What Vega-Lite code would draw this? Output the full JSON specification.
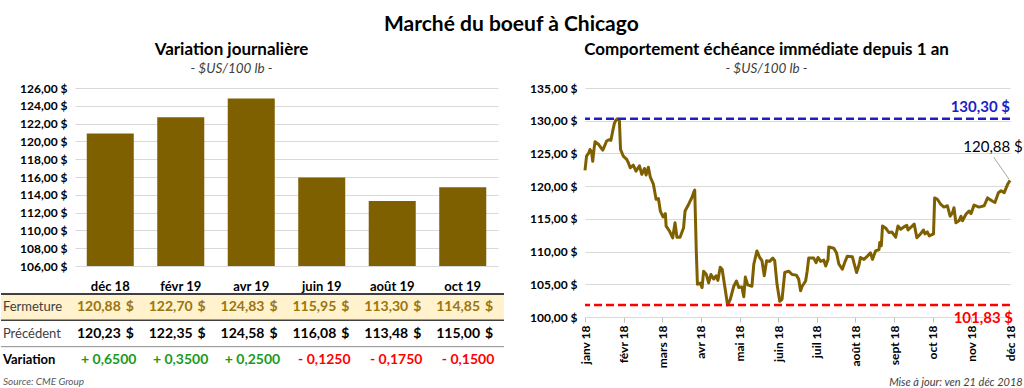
{
  "$schema": "https://vega.github.io/schema/vega-lite/v6.json",
  "background": "white",
  "padding": {"left": 0, "top": 13, "right": 4, "bottom": 0},
  "config": {
    "font": "Lato",
    "view": {"stroke": null},
    "locale": {"number": {"decimal": ",", "thousands": "\u00a0", "grouping": [3], "currency": ["", "\u00a0$"]}},
    "axis": {"labelColor": "#000000", "labelFontWeight": "bold", "labelFontSize": 12, "gridColor": "#D9D9D9", "domain": false, "ticks": false, "labelOverlap": false},
    "title": {"color": "#000000"}
  },
  "title": {"text": "Marché du boeuf à Chicago", "fontSize": 21, "fontWeight": "bold", "anchor": "middle", "offset": 6},
  "datasets": {
    "contracts": [
      {"c": "déc 18", "close": 120.88, "prev": 120.23, "chg": 0.65},
      {"c": "févr 19", "close": 122.70, "prev": 122.35, "chg": 0.35},
      {"c": "avr 19", "close": 124.83, "prev": 124.58, "chg": 0.25},
      {"c": "juin 19", "close": 115.95, "prev": 116.08, "chg": -0.125},
      {"c": "août 19", "close": 113.30, "prev": 113.48, "chg": -0.175},
      {"c": "oct 19", "close": 114.85, "prev": 115.00, "chg": -0.15}
    ],
    "rows": [{"r": "Fermeture"}, {"r": "Précédent"}, {"r": "Variation"}],
    "series": [
      {"m": 0.00, "v": 122.4}, {"m": 0.04, "v": 124.6}, {"m": 0.09, "v": 125.0}, {"m": 0.13, "v": 125.6},
      {"m": 0.17, "v": 125.2}, {"m": 0.20, "v": 123.8}, {"m": 0.23, "v": 125.5}, {"m": 0.26, "v": 126.8},
      {"m": 0.30, "v": 126.6}, {"m": 0.35, "v": 126.4}, {"m": 0.41, "v": 125.9}, {"m": 0.46, "v": 125.5},
      {"m": 0.51, "v": 126.2}, {"m": 0.56, "v": 126.9}, {"m": 0.62, "v": 127.1}, {"m": 0.67, "v": 127.0},
      {"m": 0.71, "v": 128.2}, {"m": 0.76, "v": 129.6}, {"m": 0.80, "v": 130.1}, {"m": 0.84, "v": 130.3},
      {"m": 0.89, "v": 130.0}, {"m": 0.92, "v": 125.6}, {"m": 0.99, "v": 124.6}, {"m": 1.08, "v": 124.1},
      {"m": 1.12, "v": 123.6}, {"m": 1.17, "v": 122.8}, {"m": 1.25, "v": 123.2}, {"m": 1.32, "v": 122.3},
      {"m": 1.41, "v": 123.1}, {"m": 1.47, "v": 121.8}, {"m": 1.54, "v": 122.7}, {"m": 1.58, "v": 121.7},
      {"m": 1.64, "v": 122.9}, {"m": 1.69, "v": 121.4}, {"m": 1.77, "v": 120.3}, {"m": 1.84, "v": 118.0},
      {"m": 1.90, "v": 118.1}, {"m": 1.95, "v": 116.2}, {"m": 2.02, "v": 115.3}, {"m": 2.08, "v": 115.8},
      {"m": 2.10, "v": 113.9}, {"m": 2.19, "v": 113.1}, {"m": 2.27, "v": 112.1}, {"m": 2.33, "v": 114.4},
      {"m": 2.38, "v": 112.2}, {"m": 2.46, "v": 112.2}, {"m": 2.55, "v": 113.6}, {"m": 2.59, "v": 116.2},
      {"m": 2.68, "v": 117.2}, {"m": 2.77, "v": 118.3}, {"m": 2.81, "v": 119.0}, {"m": 2.84, "v": 119.4},
      {"m": 2.88, "v": 110.1}, {"m": 2.91, "v": 105.0}, {"m": 2.98, "v": 105.2}, {"m": 3.03, "v": 104.5},
      {"m": 3.07, "v": 107.0}, {"m": 3.14, "v": 106.5}, {"m": 3.20, "v": 105.2}, {"m": 3.26, "v": 106.5},
      {"m": 3.33, "v": 105.8}, {"m": 3.39, "v": 106.3}, {"m": 3.44, "v": 105.6}, {"m": 3.50, "v": 107.6},
      {"m": 3.55, "v": 107.3}, {"m": 3.63, "v": 104.2}, {"m": 3.69, "v": 101.83}, {"m": 3.76, "v": 102.7},
      {"m": 3.85, "v": 104.7}, {"m": 3.92, "v": 105.5}, {"m": 3.98, "v": 104.5}, {"m": 4.06, "v": 104.6},
      {"m": 4.11, "v": 103.1}, {"m": 4.15, "v": 106.1}, {"m": 4.21, "v": 104.9}, {"m": 4.32, "v": 104.7},
      {"m": 4.37, "v": 108.1}, {"m": 4.45, "v": 110.1}, {"m": 4.52, "v": 109.1}, {"m": 4.58, "v": 108.6},
      {"m": 4.64, "v": 106.3}, {"m": 4.70, "v": 108.6}, {"m": 4.78, "v": 108.5}, {"m": 4.86, "v": 109.0},
      {"m": 4.91, "v": 108.6}, {"m": 4.97, "v": 105.0}, {"m": 5.04, "v": 102.4}, {"m": 5.10, "v": 102.7},
      {"m": 5.17, "v": 106.8}, {"m": 5.27, "v": 107.0}, {"m": 5.36, "v": 106.5}, {"m": 5.47, "v": 106.4},
      {"m": 5.53, "v": 105.8}, {"m": 5.58, "v": 104.0}, {"m": 5.62, "v": 104.7}, {"m": 5.71, "v": 105.5},
      {"m": 5.75, "v": 107.0}, {"m": 5.79, "v": 109.0}, {"m": 5.92, "v": 109.0}, {"m": 5.98, "v": 108.3},
      {"m": 6.03, "v": 109.1}, {"m": 6.10, "v": 108.5}, {"m": 6.18, "v": 108.7}, {"m": 6.23, "v": 107.8},
      {"m": 6.29, "v": 108.8}, {"m": 6.31, "v": 110.7}, {"m": 6.44, "v": 110.5}, {"m": 6.51, "v": 109.8},
      {"m": 6.57, "v": 108.1}, {"m": 6.66, "v": 107.3}, {"m": 6.72, "v": 108.3}, {"m": 6.79, "v": 109.3},
      {"m": 6.92, "v": 109.2}, {"m": 6.96, "v": 108.3}, {"m": 7.03, "v": 106.8}, {"m": 7.09, "v": 107.9},
      {"m": 7.13, "v": 109.1}, {"m": 7.22, "v": 108.8}, {"m": 7.31, "v": 109.3}, {"m": 7.39, "v": 109.8},
      {"m": 7.44, "v": 108.8}, {"m": 7.52, "v": 110.1}, {"m": 7.61, "v": 110.3}, {"m": 7.63, "v": 111.4},
      {"m": 7.67, "v": 110.9}, {"m": 7.70, "v": 113.9}, {"m": 7.78, "v": 113.6}, {"m": 7.87, "v": 112.9},
      {"m": 7.94, "v": 113.0}, {"m": 8.04, "v": 112.2}, {"m": 8.10, "v": 113.9}, {"m": 8.17, "v": 113.4},
      {"m": 8.26, "v": 113.8}, {"m": 8.33, "v": 114.0}, {"m": 8.36, "v": 113.3}, {"m": 8.52, "v": 114.2},
      {"m": 8.59, "v": 112.1}, {"m": 8.67, "v": 112.6}, {"m": 8.76, "v": 113.3}, {"m": 8.80, "v": 112.7},
      {"m": 8.86, "v": 113.0}, {"m": 8.91, "v": 112.4}, {"m": 9.02, "v": 112.7}, {"m": 9.05, "v": 118.2},
      {"m": 9.12, "v": 118.0}, {"m": 9.21, "v": 117.2}, {"m": 9.29, "v": 116.8}, {"m": 9.38, "v": 117.0},
      {"m": 9.45, "v": 115.4}, {"m": 9.51, "v": 115.9}, {"m": 9.55, "v": 116.7}, {"m": 9.60, "v": 114.4},
      {"m": 9.68, "v": 114.7}, {"m": 9.73, "v": 115.4}, {"m": 9.77, "v": 114.7}, {"m": 9.86, "v": 115.7},
      {"m": 9.94, "v": 116.2}, {"m": 9.99, "v": 115.8}, {"m": 10.07, "v": 117.1}, {"m": 10.20, "v": 116.8},
      {"m": 10.33, "v": 117.0}, {"m": 10.42, "v": 118.2}, {"m": 10.55, "v": 117.7}, {"m": 10.61, "v": 117.5},
      {"m": 10.70, "v": 119.0}, {"m": 10.77, "v": 119.3}, {"m": 10.85, "v": 119.0}, {"m": 10.94, "v": 120.3},
      {"m": 11.00, "v": 120.88}
    ]
  },
  "spacing": 24,
  "hconcat": [
    {
      "spacing": 0,
      "title": {"text": "Source: CME Group", "orient": "bottom", "anchor": "start", "fontSize": 10, "fontStyle": "italic", "fontWeight": "normal", "color": "#595959", "offset": 4, "dx": 3},
      "vconcat": [
        {
          "spacing": 17,
          "hconcat": [
            {"width": 1, "height": 1, "data": {"values": [{}]}, "mark": {"type": "text", "text": ""}, "encoding": {}},
            {
              "width": 423, "height": 178,
              "title": {"text": "Variation journalière", "subtitle": "- $US/100 lb -", "fontSize": 17, "fontWeight": "bold", "subtitleFontSize": 13.5, "subtitleFontStyle": "italic", "subtitleColor": "#404040", "subtitlePadding": 3, "offset": 6, "anchor": "middle", "frame": "group", "dx": -55},
              "data": {"name": "contracts"},
              "mark": {"type": "bar", "color": "#7F6000"},
              "encoding": {
                "x": {"field": "c", "type": "nominal", "sort": null, "title": null, "scale": {"paddingInner": 0.333, "paddingOuter": 0.1667}, "axis": {"labelAngle": 0, "labelFontSize": 13, "labelPadding": 14}},
                "y": {"field": "close", "type": "quantitative", "title": null, "scale": {"domain": [106, 126], "zero": false, "nice": false}, "axis": {"values": [106, 108, 110, 112, 114, 116, 118, 120, 122, 124, 126], "format": "$.2f", "grid": true, "labelPadding": 8}},
                "y2": {"datum": 106}
              }
            }
          ]
        },
        {
          "width": 503, "height": 79,
          "layer": [
            {
              "data": {"name": "rows"},
              "transform": [{"filter": "datum.r == 'Fermeture'"}],
              "mark": {"type": "rect", "color": "#FFF2CC"},
              "encoding": {
                "y": {"field": "r", "type": "nominal", "title": null, "scale": {"domain": ["Fermeture", "Précédent", "Variation"], "paddingInner": 0, "paddingOuter": 0}, "axis": null}
              }
            },
            {
              "data": {"name": "rows"},
              "mark": {"type": "rule"},
              "encoding": {
                "y": {"field": "r", "type": "nominal", "bandPosition": 0, "title": null, "axis": null},
                "color": {"field": "r", "type": "nominal", "scale": {"domain": ["Fermeture", "Précédent", "Variation"], "range": ["#404040", "#404040", "#8C8C8C"]}, "legend": null},
                "strokeWidth": {"field": "r", "type": "nominal", "scale": {"domain": ["Fermeture", "Précédent", "Variation"], "range": [2, 1, 3]}, "legend": null}
              }
            },
            {
              "data": {"name": "rows"},
              "transform": [{"filter": "datum.r != 'Variation'"}],
              "mark": {"type": "text", "align": "left", "fontSize": 13, "dx": -34},
              "encoding": {
                "x": {"datum": "Contrat", "type": "nominal", "title": null, "scale": {"domain": ["Contrat", "déc 18", "févr 19", "avr 19", "juin 19", "août 19", "oct 19"], "paddingInner": 0, "paddingOuter": 0.065}, "axis": null},
                "y": {"field": "r", "type": "nominal", "title": null, "axis": null},
                "text": {"field": "r"},
                "color": {"field": "r", "type": "nominal", "scale": {"domain": ["Fermeture", "Précédent"], "range": ["#9A7510", "#404040"]}, "legend": null}
              }
            },
            {
              "data": {"name": "rows"},
              "transform": [{"filter": "datum.r == 'Variation'"}],
              "mark": {"type": "text", "align": "left", "fontSize": 13, "fontWeight": "bold", "color": "#000000", "dx": -34},
              "encoding": {
                "x": {"datum": "Contrat", "type": "nominal", "title": null, "axis": null},
                "y": {"field": "r", "type": "nominal", "title": null, "axis": null},
                "text": {"field": "r"}
              }
            },
            {
              "data": {"name": "contracts"},
              "mark": {"type": "text", "fontSize": 14, "fontWeight": "bold", "color": "#9A7510", "align": "right", "dx": 12},
              "encoding": {
                "x": {"field": "c", "type": "nominal", "title": null, "axis": null},
                "y": {"datum": "Fermeture", "type": "nominal", "title": null, "axis": null},
                "text": {"field": "close", "type": "quantitative", "format": ".2f"}
              }
            },
            {
              "data": {"name": "contracts"},
              "mark": {"type": "text", "fontSize": 14, "fontWeight": "bold", "color": "#9A7510", "text": "$", "dx": 21},
              "encoding": {
                "x": {"field": "c", "type": "nominal", "title": null, "axis": null},
                "y": {"datum": "Fermeture", "type": "nominal", "title": null, "axis": null}
              }
            },
            {
              "data": {"name": "contracts"},
              "mark": {"type": "text", "fontSize": 14, "fontWeight": "bold", "color": "#000000", "align": "right", "dx": 12},
              "encoding": {
                "x": {"field": "c", "type": "nominal", "title": null, "axis": null},
                "y": {"datum": "Précédent", "type": "nominal", "title": null, "axis": null},
                "text": {"field": "prev", "type": "quantitative", "format": ".2f"}
              }
            },
            {
              "data": {"name": "contracts"},
              "mark": {"type": "text", "fontSize": 14, "fontWeight": "bold", "color": "#000000", "text": "$", "dx": 21},
              "encoding": {
                "x": {"field": "c", "type": "nominal", "title": null, "axis": null},
                "y": {"datum": "Précédent", "type": "nominal", "title": null, "axis": null}
              }
            },
            {
              "data": {"name": "contracts"},
              "transform": [{"calculate": "(datum.chg > 0 ? '+ ' : '- ') + replace(format(abs(datum.chg), '.4f'), '.', ',')", "as": "label"}],
              "mark": {"type": "text", "fontSize": 14, "fontWeight": "bold"},
              "encoding": {
                "x": {"field": "c", "type": "nominal", "title": null, "axis": null},
                "y": {"datum": "Variation", "type": "nominal", "title": null, "axis": null},
                "text": {"field": "label"},
                "color": {"condition": {"test": "datum.chg > 0", "value": "#1A9A1A"}, "value": "#FF0000"}
              }
            }
          ]
        }
      ]
    },
    {
      "title": {"text": "Mise à jour: ven 21 déc 2018", "orient": "bottom", "anchor": "end", "fontSize": 11, "fontStyle": "italic", "fontWeight": "normal", "color": "#404040", "offset": 9},
      "vconcat": [
        {
          "width": 425, "height": 229,
          "title": {"text": "Comportement échéance immédiate depuis 1 an", "subtitle": "- $US/100 lb -", "fontSize": 17, "fontWeight": "bold", "subtitleFontSize": 13.5, "subtitleFontStyle": "italic", "subtitleColor": "#404040", "subtitlePadding": 3, "offset": 6, "anchor": "middle", "frame": "group", "dx": -31},
          "resolve": {"axis": {"x": "independent", "y": "independent"}},
          "layer": [
            {
              "data": {"name": "series"},
              "mark": {"type": "line", "color": "#7F6000", "strokeWidth": 3, "strokeJoin": "round"},
              "encoding": {
                "x": {"field": "m", "type": "quantitative", "title": null, "scale": {"domain": [0, 11], "nice": false, "zero": false}, "axis": {"orient": "bottom", "values": [0, 1, 2, 3, 4, 5, 6, 7, 8, 9, 10, 11], "labelExpr": "['janv 18','févr 18','mars 18','avr 18','mai 18','juin 18','juil 18','août 18','sept 18','oct 18','nov 18','déc 18'][datum.value]", "labelAngle": -90, "ticks": true, "tickSize": 5, "tickColor": "#BFBFBF", "domain": true, "domainColor": "#D9D9D9", "grid": false, "labelPadding": 3, "labelOverlap": false}},
                "y": {"field": "v", "type": "quantitative", "title": null, "scale": {"domain": [100, 135], "nice": false, "zero": false}, "axis": {"orient": "left", "values": [100, 105, 110, 115, 120, 125, 130, 135], "format": "$.2f", "grid": true, "labelPadding": 8, "labelOverlap": false}}
              }
            },
            {
              "data": {"values": [{}]},
              "mark": {"type": "rule", "color": "#1E1EC8", "strokeWidth": 2.5, "strokeDash": [8, 4]},
              "encoding": {"y": {"datum": 130.3, "type": "quantitative", "title": null, "axis": null}}
            },
            {
              "data": {"values": [{}]},
              "mark": {"type": "rule", "color": "#FF0000", "strokeWidth": 2.5, "strokeDash": [8, 4]},
              "encoding": {"y": {"datum": 101.83, "type": "quantitative", "title": null, "axis": null}}
            },
            {
              "data": {"values": [{}]},
              "mark": {"type": "text", "text": "130,30 $", "color": "#1E1EC8", "fontSize": 15, "fontWeight": "bold", "align": "right", "dy": -12},
              "encoding": {"x": {"datum": 11, "type": "quantitative", "title": null, "axis": null}, "y": {"datum": 130.3, "type": "quantitative", "title": null, "axis": null}}
            },
            {
              "data": {"values": [{}]},
              "mark": {"type": "text", "text": "101,83 $", "color": "#FF0000", "fontSize": 15, "fontWeight": "bold", "align": "right", "dx": 3, "dy": 13},
              "encoding": {"x": {"datum": 11, "type": "quantitative", "title": null, "axis": null}, "y": {"datum": 101.83, "type": "quantitative", "title": null, "axis": null}}
            },
            {
              "data": {"values": [{}]},
              "mark": {"type": "rule", "color": "#A6A6A6", "strokeWidth": 1},
              "encoding": {"x": {"datum": 10.97, "type": "quantitative", "title": null, "axis": null}, "y": {"datum": 121.1, "type": "quantitative", "title": null, "axis": null}, "x2": {"datum": 10.58}, "y2": {"datum": 124.4}}
            },
            {
              "data": {"values": [{}]},
              "mark": {"type": "text", "text": "120,88 $", "color": "#000000", "fontSize": 15, "align": "center"},
              "encoding": {"x": {"datum": 10.56, "type": "quantitative", "title": null, "axis": null}, "y": {"datum": 126.0, "type": "quantitative", "title": null, "axis": null}}
            }
          ]
        }
      ]
    }
  ]
}
